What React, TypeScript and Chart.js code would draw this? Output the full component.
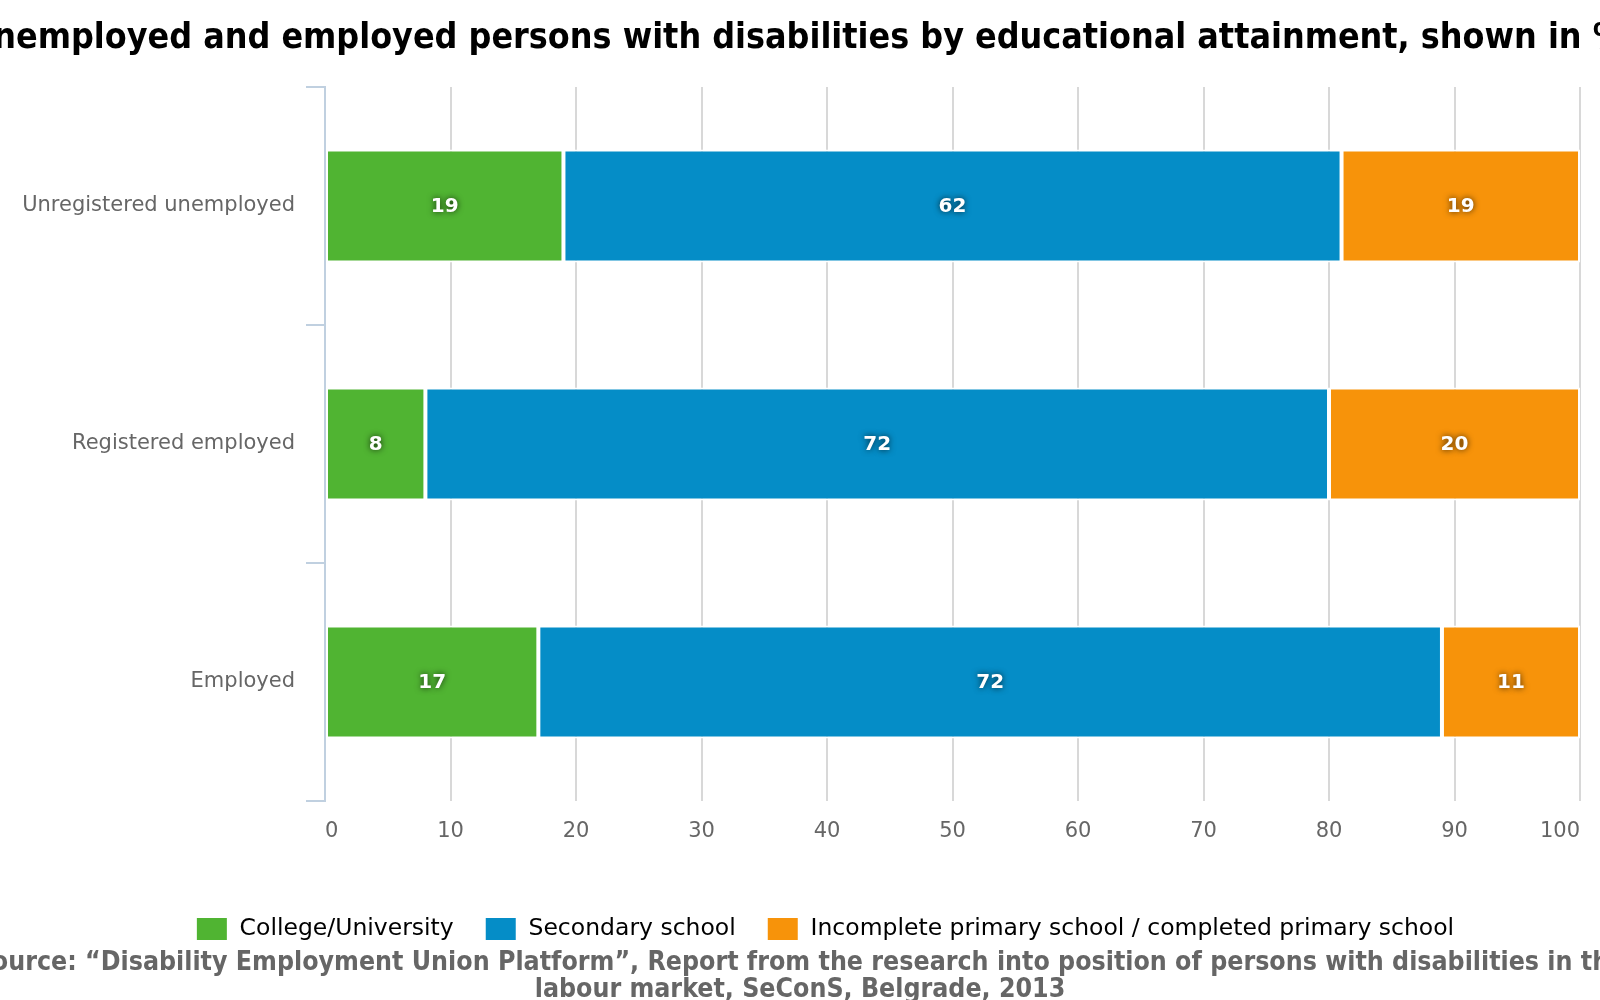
import { useEffect, useRef } from 'react';
import { Chart, registerables } from 'chart.js';

Chart.register(...registerables);

const titleText = 'Unemployed and employed persons with disabilities by educational attainment, shown in %';
const sourceLines = [
  'Source: \u201cDisability Employment Union Platform\u201d, Report from the research into position of persons with disabilities in the',
  'labour market, SeConS, Belgrade, 2013',
];

const categories = ['Unregistered unemployed', 'Registered employed', 'Employed'];
const seriesNames = ['College/University', 'Secondary school', 'Incomplete primary school / completed primary school'];
const collegeValues = [19, 8, 17];
const secondaryValues = [62, 72, 72];
const primaryValues = [19, 20, 11];
const seriesColors = ['#50B432', '#058DC7', '#F7930A'];

const textPlugin = {
  id: 'texts',
  afterLayout(chart) {
    // let the long category labels run to the canvas edge instead of being clipped
    chart.scales.y.left = 0;
  },
  afterDatasetsDraw(chart) {
    const ctx = chart.ctx;
    // value labels inside the bars
    ctx.save();
    ctx.font = 'bold 20px "DejaVu Sans"';
    ctx.textAlign = 'center';
    ctx.textBaseline = 'middle';
    ctx.fillStyle = '#ffffff';
    ctx.shadowColor = 'rgba(0,0,0,0.75)';
    ctx.shadowBlur = 6;
    chart.data.datasets.forEach((ds, i) => {
      const meta = chart.getDatasetMeta(i);
      meta.data.forEach((bar, j) => {
        const p = bar.getProps(['x', 'y', 'base'], true);
        ctx.fillText(String(ds.data[j]), (p.x + p.base) / 2, p.y + 1);
      });
    });
    ctx.restore();
  },
  afterDraw(chart) {
    const ctx = chart.ctx;
    ctx.save();
    ctx.textAlign = 'center';
    ctx.textBaseline = 'middle';
    ctx.fillStyle = '#000000';
    ctx.font = 'bold 35.5px "DejaVu Sans Condensed"';
    ctx.fillText(titleText, 796, 39);
    ctx.fillStyle = '#666666';
    ctx.font = 'bold 26.5px "DejaVu Sans Condensed"';
    sourceLines.forEach((line, i) => ctx.fillText(line, 800, 963 + i * 27));
    ctx.restore();
  },
};

export default function App() {
  const canvasRef = useRef(null);

  useEffect(() => {
    document.body.style.margin = '0';
    if (!canvasRef.current) return;
    const chart = new Chart(canvasRef.current.getContext('2d'), {
      type: 'bar',
      data: {
        labels: categories,
        datasets: [collegeValues, secondaryValues, primaryValues].map((values, i) => ({
          label: seriesNames[i],
          data: values,
          backgroundColor: seriesColors[i],
          borderColor: '#ffffff',
          borderWidth: 2,
          borderSkipped: false,
          barPercentage: 0.475,
          categoryPercentage: 1,
        })),
      },
      options: {
        indexAxis: 'y',
        animation: false,
        responsive: true,
        maintainAspectRatio: false,
        layout: { autoPadding: false, padding: { left: 70, right: 20, top: 87, bottom: 49 } },
        scales: {
          x: {
            stacked: true,
            min: 0,
            max: 100,
            ticks: {
              stepSize: 10,
              align: 'inner',
              color: '#666666',
              padding: 18,
              font: { family: 'DejaVu Sans', size: 21 },
            },
            grid: {
              color: (c) => (c.index === 0 ? 'transparent' : '#d8d8d8'),
              lineWidth: 2,
              drawTicks: false,
            },
            border: { display: false },
            afterFit: (s) => {
              s.height = 85;
            },
          },
          y: {
            stacked: true,
            ticks: {
              color: '#666666',
              padding: 11,
              font: { family: 'DejaVu Sans', size: 21 },
            },
            grid: {
              offset: true,
              drawOnChartArea: false,
              drawTicks: true,
              tickLength: 19,
              tickColor: '#C0D0E0',
              lineWidth: 2,
            },
            border: { color: '#C0D0E0', width: 2 },
            afterFit: (s) => {
              s.width = 255;
            },
          },
        },
        plugins: {
          legend: {
            position: 'bottom',
            labels: {
              boxWidth: 32,
              boxHeight: 24,
              padding: 31,
              color: '#000000',
              font: { family: 'DejaVu Sans', size: 23.5 },
            },
          },
          tooltip: { enabled: false },
          title: { display: false },
        },
      },
      plugins: [textPlugin],
    });
    return () => {
      chart.destroy();
    };
  }, []);

  return (
    <div style={{ width: 1600, height: 1000, position: 'relative' }}>
      <canvas ref={canvasRef}></canvas>
    </div>
  );
}
